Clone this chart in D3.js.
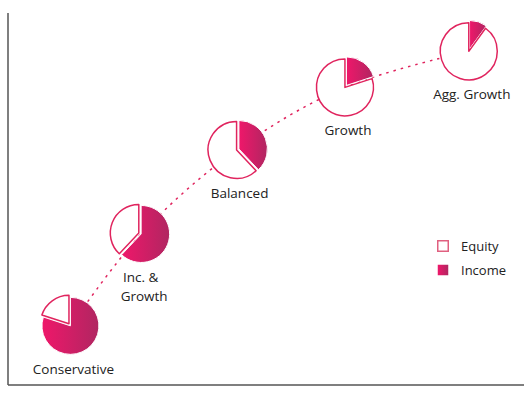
<!DOCTYPE html>
<html><head><meta charset="utf-8">
<script src="https://cdn.jsdelivr.net/npm/d3@7"></script>
<style>
html,body{margin:0;padding:0;background:#fff;}
svg{display:block;font-family:"Open Sans",sans-serif;}
</style></head>
<body>
<svg id="chart" width="531" height="394"></svg>
<script>
const categories = ["Conservative", "Inc. & Growth", "Balanced", "Growth", "Agg. Growth"];
const labelLines = [["Conservative"], ["Inc. &\u00a0\u00a0", "Growth"], ["Balanced"], ["Growth"], ["Agg. Growth"]];
const income = [80, 62, 38, 20, 10];
const equity = [20, 38, 62, 80, 90];
const risk = [12.1, 25.8, 44.3, 65.3, 89.3];
const returns = [15.9, 40.6, 63.2, 80.0, 89.7];
const seriesNames = ["Equity", "Income"];

const svg = d3.select("#chart");
const mLeft = 8, mRight = 524, mTop = 13, mBottom = 385;

const x = d3.scaleLinear().domain([0, 100]).range([mLeft, mRight]);
const y = d3.scaleLinear().domain([0, 100]).range([mBottom, mTop]);

const defs = svg.append("defs");
const grad = defs.append("linearGradient").attr("id", "incGrad")
  .attr("x1", "0").attr("y1", "0").attr("x2", "1").attr("y2", "0");
grad.append("stop").attr("offset", "0").attr("stop-color", "#ef176a");
grad.append("stop").attr("offset", "1").attr("stop-color", "#b02661");

// axes
svg.append("line").attr("x1", mLeft).attr("x2", mLeft).attr("y1", mTop).attr("y2", mBottom)
  .attr("stroke", "#555").attr("stroke-width", 1.5);
svg.append("line").attr("x1", mLeft).attr("x2", mRight).attr("y1", mBottom).attr("y2", mBottom)
  .attr("stroke", "#555").attr("stroke-width", 1.5);

const pts = categories.map((c, i) => [x(risk[i]), y(returns[i])]);

// dotted connecting curve
svg.append("path")
  .attr("d", d3.line().curve(d3.curveCatmullRom.alpha(0.5))(pts))
  .attr("fill", "none").attr("stroke", "#e0245e").attr("stroke-width", 1.5)
  .attr("stroke-dasharray", "2.5 5");

const R = 28.5;
const arc = d3.arc().innerRadius(0).outerRadius(R);
const pie = d3.pie().sort(null).value(d => d.v);

categories.forEach((c, i) => {
  const g = svg.append("g").attr("transform", `translate(${pts[i][0]},${pts[i][1]})`);
  const data = [{k: "Income", v: income[i]}, {k: "Equity", v: equity[i]}];
  const arcs = pie(data);
  const minV = Math.min(income[i], equity[i]);
  arcs.forEach(a => {
    const ex = a.data.v === minV ? 2.5 : 0;
    const mid = (a.startAngle + a.endAngle) / 2;
    const dx = Math.sin(mid) * ex, dy = -Math.cos(mid) * ex;
    g.append("path").attr("d", arc(a))
      .attr("transform", `translate(${dx},${dy})`)
      .attr("fill", a.data.k === "Income" ? "url(#incGrad)" : "#fff")
      .attr("stroke", a.data.k === "Income" ? "#fff" : "#e0245e")
      .attr("stroke-width", a.data.k === "Income" ? 1 : 1.5)
      .attr("stroke-linejoin", "round");
  });
  const lines = labelLines[i];
  lines.forEach((t, j) => {
    g.append("text").attr("x", 3).attr("y", 48 + j * 19)
      .attr("text-anchor", "middle").attr("font-size", 13.5).attr("fill", "#222")
      .style("white-space", "pre")
      .text(t);
  });
});

// legend
const lg = svg.append("g").attr("transform", "translate(437,240)");
seriesNames.forEach((n, i) => {
  const row = lg.append("g").attr("transform", `translate(0,${i * 24})`);
  row.append("rect").attr("x", 0.75).attr("y", 0.75).attr("width", 10.5).attr("height", 10.5)
    .attr("fill", n === "Income" ? "url(#incGrad)" : "#fff")
    .attr("stroke", n === "Income" ? "none" : "#e06080").attr("stroke-width", 1.5);
  row.append("text").attr("x", 24).attr("y", 11).attr("font-size", 13).attr("fill", "#222").text(n);
});
</script>
</body></html>
